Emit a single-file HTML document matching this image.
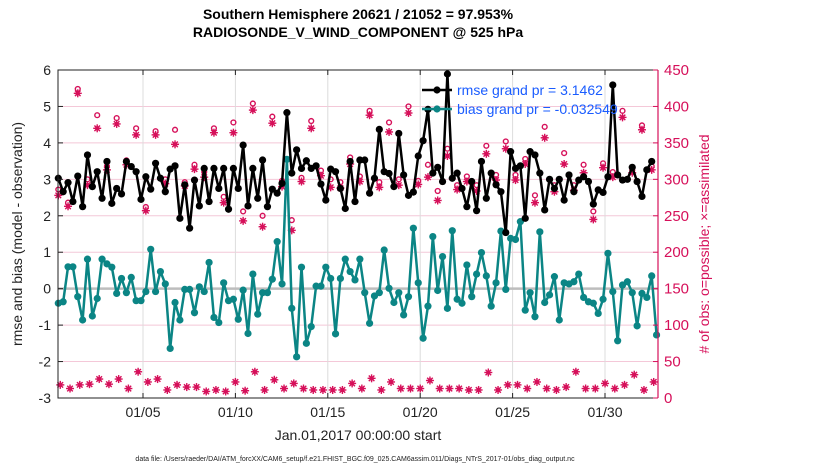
<!DOCTYPE html>
<html><head><meta charset="utf-8"><style>
body{margin:0;background:#fff;}
svg{display:block;font-family:"Liberation Sans",sans-serif;}
</style></head><body>
<svg id="chart" width="830" height="470" viewBox="0 0 830 470" xmlns="http://www.w3.org/2000/svg"></svg>
<script>
const rmseValues=[3.03,2.66,2.91,2.39,3.09,2.25,3.67,2.80,3.21,2.48,3.49,2.34,2.75,2.60,3.49,3.35,3.21,2.45,3.07,2.73,3.44,3.03,2.66,3.28,3.37,1.93,2.85,1.66,2.98,2.27,3.30,2.39,
3.30,2.75,3.30,2.18,3.30,2.75,3.94,2.27,3.30,2.48,3.53,2.25,2.73,2.62,2.89,4.83,3.17,3.81,3.30,3.51,3.30,3.37,2.87,2.43,3.28,3.21,2.75,2.20,3.49,2.39,3.53,
3.53,2.62,3.03,4.37,3.21,3.16,2.80,4.26,3.12,2.56,2.65,3.64,4.06,4.92,3.17,3.33,2.94,5.89,3.03,3.17,2.75,2.25,2.94,2.14,3.49,2.48,3.17,2.85,2.66,1.54,
3.76,3.30,3.37,1.93,3.76,3.67,3.17,2.16,3.00,2.75,3.00,2.43,3.12,2.66,2.98,3.07,2.94,2.32,2.71,2.64,3.07,5.59,3.12,2.98,3.00,3.33,2.94,2.53,3.26,3.49];
const biasValues=[-0.40,-0.36,0.60,0.60,-0.22,-0.86,0.81,-0.75,-0.27,0.81,0.68,0.59,-0.13,0.28,-0.11,0.31,-0.33,-0.33,-0.08,1.08,-0.08,0.47,0.13,-1.64,-0.38,-0.86,-0.02,-0.02,-0.66,0.05,-0.08,0.72,
-0.79,-0.93,0.16,-0.33,-0.29,-0.84,-0.04,-1.23,0.40,-0.70,-0.11,-0.11,0.26,1.29,0.13,3.55,-0.54,-1.87,0.59,-1.50,-1.04,0.07,0.07,0.59,0.28,-1.24,0.28,0.81,0.47,0.24,0.81,
-0.11,-0.95,-0.20,-0.11,1.06,0.01,-0.38,-0.11,-0.72,-0.22,1.66,0.16,-1.36,-0.48,1.43,-0.05,0.88,-0.54,1.59,-0.29,-0.40,0.65,-0.22,0.40,0.99,0.35,-0.48,0.16,1.58,-0.02,1.38,
1.35,1.84,-0.59,-0.11,-0.77,1.56,-0.38,-0.17,0.33,-0.86,0.16,0.13,0.19,0.40,-0.24,-0.36,-0.40,-0.68,-0.29,0.97,-0.08,-1.43,0.10,0.19,-0.11,-1.02,-0.13,-0.24,0.35,-1.27];
const assimCounts=[278,263,418,292,370,313,376,320,361,257,361,294,348,291,314,303,364,268,364,243,395,235,377,290,230,297,370,305,289,288,321,297,388,289,365,292,391,293,303,271,332,286,297,284,335,299,342,299,321,268,357,283,321,285,309,245,316,303,385,309,368,313];
const possibleCounts=[286,268,424,300,388,318,384,326,370,262,366,300,368,296,320,310,370,276,378,256,404,250,386,298,244,302,380,312,300,296,330,304,394,296,378,300,400,298,320,284,342,292,304,292,346,306,352,306,328,278,372,292,336,292,320,256,322,310,394,314,374,318];
const lowCounts=[18,13,18,19,26,19,26,13,36,22,26,11,18,15,15,9,11,9,22,10,36,11,25,13,20,13,11,11,11,11,20,13,27,11,22,13,13,13,24,13,13,13,11,11,35,11,18,18,13,22,13,11,15,36,13,13,20,13,18,32,11,22];
const leftTicks=[6,5,4,3,2,1,0,-1,-2,-3];
const rightTicks=[450,400,350,300,250,200,150,100,50,0];
const dayTicks=[5,10,15,20,25,30];
const dayLabels=["01/05","01/10","01/15","01/20","01/25","01/30"];

const NS="http://www.w3.org/2000/svg";
const svg=document.getElementById('chart');
const L=58,R=658,T=70,B=398;
const yL=v=>T+(6-v)*(B-T)/9;
const yR=c=>B-c*(B-T)/450;
const xIdx=i=>58.3+i*(651.7-58.3)/(rmseValues.length-1);
const xDay=d=>143+(d-5)*18.48;
function mk(tag,attrs,parent){const e=document.createElementNS(NS,tag);for(const k in attrs)e.setAttribute(k,attrs[k]);(parent||svg).appendChild(e);return e;}
function txt(s,attrs){const e=mk('text',attrs);e.textContent=s;return e;}

leftTicks.forEach(v=>{const g=mk('line',{x1:L,x2:R,y1:yL(v),y2:yL(v),stroke:'#f4c8d8','stroke-width':1});

});
dayTicks.forEach(d=>{const g=mk('line',{x1:xDay(d),x2:xDay(d),y1:T,y2:B,stroke:'#dcdcdc','stroke-width':1});

});
const z=mk('line',{x1:L,x2:R,y1:yL(0),y2:yL(0),stroke:'#bdbdbd','stroke-width':2.5});



function star(x,y,name){const g=mk('g',{stroke:'#d6105a','stroke-width':1.4});


[[0,-4,0,4],[-4,0,4,0],[-2.8,-2.8,2.8,2.8],[-2.8,2.8,2.8,-2.8]].forEach(a=>mk('line',{x1:x+a[0],y1:y+a[1],x2:x+a[2],y2:y+a[3]},g));
mk('circle',{cx:x,cy:y,r:2.2,fill:'#d6105a',stroke:'none'},g);}
assimCounts.forEach((c,k)=>{const x=xIdx(2*k);
const o=mk('circle',{cx:x,cy:yR(possibleCounts[k]),r:2.4,fill:'none',stroke:'#d6105a','stroke-width':1.4});


star(x,yR(c),'assimilated-obs-marker');
star(x+2,yR(lowCounts[k]),'low-obs-marker');});

function series(vals,color,name){
const p=mk('polyline',{points:vals.map((v,i)=>xIdx(i)+','+yL(v)).join(' '),fill:'none',stroke:color,'stroke-width':2.5,'stroke-linejoin':'round'});


vals.forEach((v,i)=>{const c=mk('circle',{cx:xIdx(i),cy:yL(v),r:3.6,fill:color});

});}
series(biasValues,'#0b8585','bias');
series(rmseValues,'#000','rmse');

const ax=mk('path',{d:`M${R},${T}H${L}V${B}H${R}`,fill:'none',stroke:'#222','stroke-width':1});


const ra=mk('line',{x1:R,x2:R,y1:T,y2:B,stroke:'#d6105a','stroke-width':1.2});


leftTicks.forEach(v=>{mk('line',{x1:L,x2:L+5,y1:yL(v),y2:yL(v),stroke:'#222'});
const t=txt(String(v),{x:L-7,y:yL(v)+5,'text-anchor':'end','font-size':14,fill:'#222'});

});
rightTicks.forEach(v=>{mk('line',{x1:R-5,x2:R,y1:yR(v),y2:yR(v),stroke:'#d6105a'});
const t=txt(String(v),{x:R+6,y:yR(v)+5,'font-size':15,fill:'#d6105a'});

});
dayTicks.forEach((d,k)=>{mk('line',{x1:xDay(d),x2:xDay(d),y1:B,y2:B-5,stroke:'#222'});mk('line',{x1:xDay(d),x2:xDay(d),y1:T,y2:T+5,stroke:'#222'});
const t=txt(dayLabels[k],{x:xDay(d),y:B+19,'text-anchor':'middle','font-size':14,fill:'#222'});

});
</script>
<svg style="position:absolute;left:0;top:0" width="830" height="470">
<text x="358" y="19" text-anchor="middle" font-size="14" font-weight="bold" font-family="Liberation Sans,sans-serif">Southern Hemisphere 20621 / 21052 = 97.953%</text>
<text x="358" y="37" text-anchor="middle" font-size="14" font-weight="bold" font-family="Liberation Sans,sans-serif">RADIOSONDE_V_WIND_COMPONENT @ 525 hPa</text>
<text transform="translate(22,234) rotate(-90)" text-anchor="middle" font-size="14" fill="#222" font-family="Liberation Sans,sans-serif">rmse and bias (model - observation)</text>
<text transform="translate(709,244) rotate(-90)" text-anchor="middle" font-size="14" fill="#d6105a" font-family="Liberation Sans,sans-serif"># of obs: o=possible; ×=assimilated</text>
<text x="358" y="440" text-anchor="middle" font-size="14" fill="#222" font-family="Liberation Sans,sans-serif">Jan.01,2017 00:00:00 start</text>
<text x="355" y="461" text-anchor="middle" font-size="7" fill="#222" font-family="Liberation Sans,sans-serif">data file: /Users/raeder/DAI/ATM_forcXX/CAM6_setup/f.e21.FHIST_BGC.f09_025.CAM6assim.011/Diags_NTrS_2017-01/obs_diag_output.nc</text>
<g>
<line x1="422" x2="452" y1="90" y2="90" stroke="#000" stroke-width="2.5"/><circle cx="437" cy="90" r="3.6" fill="#000"/>
<text x="457" y="95" font-size="14" fill="#1a5cff" font-family="Liberation Sans,sans-serif">rmse grand pr = 3.1462</text>
<line x1="422" x2="452" y1="109" y2="109" stroke="#0b8585" stroke-width="2.5"/><circle cx="437" cy="109" r="3.6" fill="#0b8585"/>
<text x="457" y="114" font-size="14" fill="#1a5cff" font-family="Liberation Sans,sans-serif">bias grand pr = -0.032549</text>
</g>
</svg>
</body></html>
